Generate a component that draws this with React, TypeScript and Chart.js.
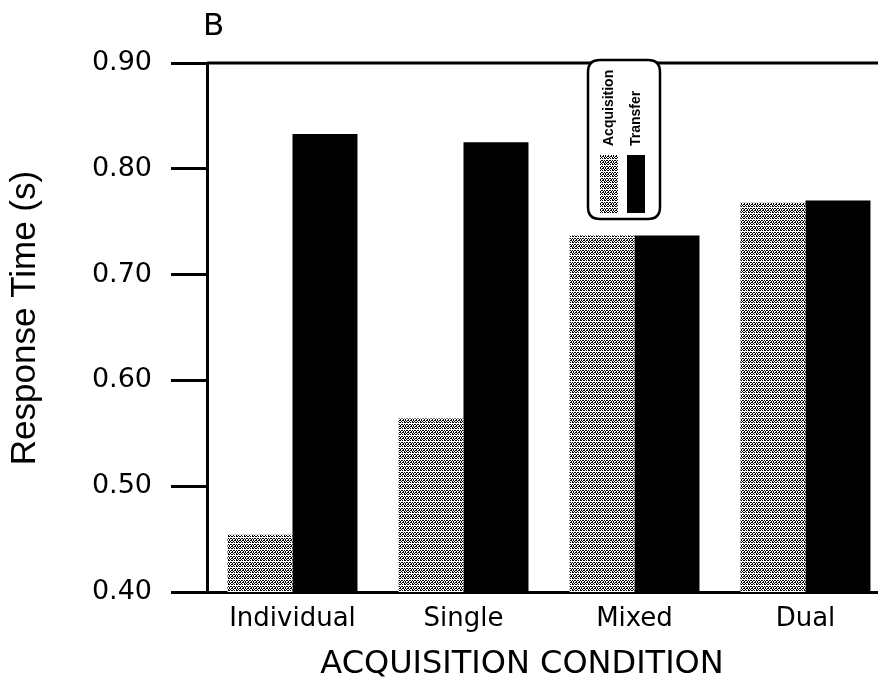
import React, { useEffect, useRef } from "react";
import { Chart, registerables } from "chart.js";

Chart.register(...registerables);

const categories = ["Individual", "Single", "Mixed", "Dual"];
const acquisition = [0.454, 0.564, 0.737, 0.768];
const transfer = [0.833, 0.825, 0.737, 0.770];
const seriesNames = ["Acquisition", "Transfer"];
const yMin = 0.4;
const yMax = 0.9;
const yStep = 0.1;
const panelLabel = "B";
const xTitle = "ACQUISITION CONDITION";
const yTitle = "Response Time (s)";

const FONT = "'DejaVu Sans', 'Liberation Sans', Arial, sans-serif";
const FONT2 = "'Liberation Sans', Arial, sans-serif";

const TILE = [
  "#.##.#.#",
  ".#..#.#.",
  "#.#.##.#",
  "........",
  ".##.#.##",
  "#..#.#..",
];

function makePattern(ctx: CanvasRenderingContext2D): CanvasPattern | string {
  const c = document.createElement("canvas");
  c.width = TILE[0].length;
  c.height = TILE.length;
  const g = c.getContext("2d");
  if (!g) return "#777";
  g.fillStyle = "#ffffff";
  g.fillRect(0, 0, c.width, c.height);
  g.fillStyle = "#000000";
  TILE.forEach((row, y) => {
    for (let x = 0; x < row.length; x++) if (row[x] === "#") g.fillRect(x, y, 1, 1);
  });
  return ctx.createPattern(c, "repeat") || "#777";
}

export default function App() {
  const ref = useRef<HTMLCanvasElement | null>(null);

  useEffect(() => {
    document.body.style.margin = "0";
    document.body.style.overflow = "hidden";
    const canvas = ref.current;
    if (!canvas) return;
    const ctx = canvas.getContext("2d");
    if (!ctx) return;
    const pattern = makePattern(ctx);

    const decor = {
      id: "decor",
      afterDraw(chart: any) {
        const c = chart.ctx as CanvasRenderingContext2D;
        const area = chart.chartArea;
        c.save();
        // top frame line
        c.strokeStyle = "#000";
        c.lineWidth = 3;
        c.beginPath();
        c.moveTo(area.left, area.top);
        c.lineTo(chart.width, area.top);
        c.stroke();

        c.fillStyle = "#000";
        // panel label
        c.font = `31px ${FONT}`;
        c.textAlign = "left";
        c.textBaseline = "alphabetic";
        c.fillText(panelLabel, 203, 35);

        // x title
        c.font = `32px ${FONT}`;
        c.textAlign = "center";
        c.textBaseline = "alphabetic";
        c.fillText(xTitle, 522, 673);

        // y title
        c.save();
        c.translate(35, 318);
        c.rotate(-Math.PI / 2);
        c.font = `35px ${FONT2}`;
        c.textAlign = "center";
        c.textBaseline = "alphabetic";
        c.fillText(yTitle, 0, 0);
        c.restore();

        // legend box
        const bx = 588, by = 60, bw = 72, bh = 159, r = 12;
        c.beginPath();
        c.moveTo(bx + r, by);
        c.lineTo(bx + bw - r, by);
        c.quadraticCurveTo(bx + bw, by, bx + bw, by + r);
        c.lineTo(bx + bw, by + bh - r);
        c.quadraticCurveTo(bx + bw, by + bh, bx + bw - r, by + bh);
        c.lineTo(bx + r, by + bh);
        c.quadraticCurveTo(bx, by + bh, bx, by + bh - r);
        c.lineTo(bx, by + r);
        c.quadraticCurveTo(bx, by, bx + r, by);
        c.closePath();
        c.fillStyle = "#fff";
        c.fill();
        c.lineWidth = 2.5;
        c.strokeStyle = "#000";
        c.stroke();

        const swatches = [pattern, "#000"];
        const sx = [600, 627];
        swatches.forEach((f, i) => {
          c.fillStyle = f as any;
          c.fillRect(sx[i], 155, 18, 58);
          c.save();
          c.translate(sx[i] + 9, 146);
          c.rotate(-Math.PI / 2);
          c.fillStyle = "#000";
          c.font = `bold 14px ${FONT2}`;
          c.textAlign = "left";
          c.textBaseline = "middle";
          c.fillText(seriesNames[i], 0, 0);
          c.restore();
        });
        c.restore();
      },
    };

    const chart = new Chart(canvas, {
      type: "bar",
      data: {
        labels: categories,
        datasets: [
          {
            label: seriesNames[0],
            data: acquisition,
            backgroundColor: pattern as any,
            borderWidth: 0,
            categoryPercentage: 0.76,
            barPercentage: 1.0,
          },
          {
            label: seriesNames[1],
            data: transfer,
            backgroundColor: "#000",
            borderWidth: 0,
            categoryPercentage: 0.76,
            barPercentage: 1.0,
          },
        ],
      },
      options: {
        responsive: false,
        animation: false,
        layout: { padding: { top: 63, right: 2, left: 0, bottom: 0 } },
        plugins: { legend: { display: false }, tooltip: { enabled: false } },
        scales: {
          x: {
            grid: { display: false, drawTicks: false },
            border: { display: true, color: "#000", width: 3 },
            ticks: {
              color: "#000",
              padding: 12,
              font: { size: 26, family: FONT },
              maxRotation: 0,
            },
            afterFit: (s: any) => {
              s.height = 95;
            },
          },
          y: {
            min: yMin,
            max: yMax,
            grid: {
              drawOnChartArea: false,
              drawTicks: true,
              tickLength: 36,
              tickWidth: 3,
              tickColor: "#000",
            },
            border: { display: true, color: "#000", width: 3 },
            ticks: {
              stepSize: yStep,
              color: "#000",
              padding: 19,
              font: { size: 27, family: FONT },
              callback: (v: any) => Number(v).toFixed(2),
            },
            afterFit: (s: any) => {
              s.width = 207;
            },
          },
        },
      },
      plugins: [decor],
    });

    return () => chart.destroy();
  }, []);

  return (
    <div style={{ width: 878, height: 687, overflow: "hidden", position: "relative", background: "#fff" }}>
      <canvas ref={ref} width={893} height={687} style={{ display: "block" }} />
    </div>
  );
}
